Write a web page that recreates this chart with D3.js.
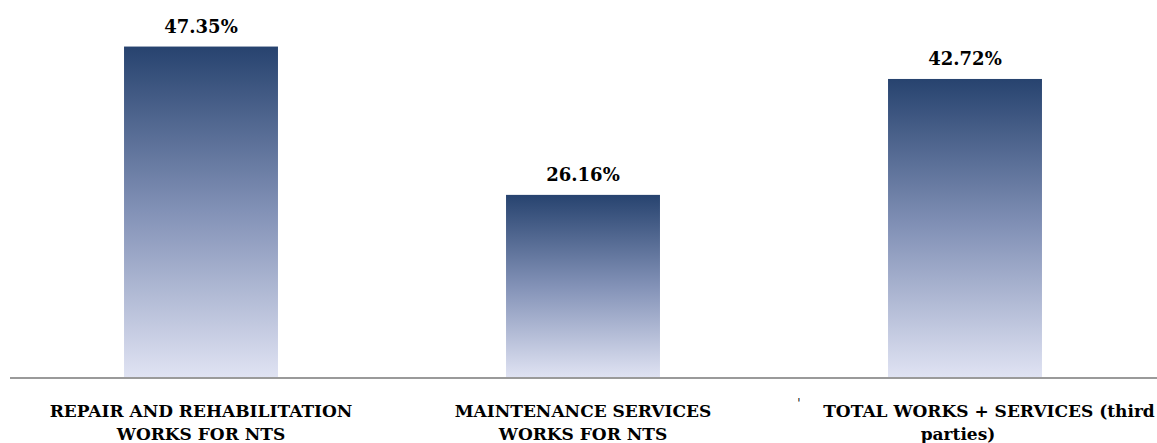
<!DOCTYPE html>
<html>
<head>
<meta charset="utf-8">
<script src="https://cdn.jsdelivr.net/npm/d3@7"></script>
<style>
  html, body { margin: 0; padding: 0; background: #fff; overflow: hidden; }
  svg { display: block; }
  text { font-family: "DejaVu Serif", "Liberation Serif", serif; font-weight: bold; fill: #000; }
</style>
</head>
<body>
<svg id="chart" width="1157" height="443"></svg>
<script>
// Category labels, split into their wrapped lines
const categories = [
  "REPAIR AND REHABILITATION WORKS FOR NTS",
  "MAINTENANCE SERVICES WORKS FOR NTS",
  "TOTAL WORKS + SERVICES (third parties)"
];
const categoryLines = [
  ["REPAIR AND REHABILITATION", "WORKS FOR NTS"],
  ["MAINTENANCE SERVICES", "WORKS FOR NTS"],
  ["TOTAL WORKS + SERVICES (third", "parties)"]
];
// Share of each category, in percent
const values = [47.35, 26.16, 42.72];
const valueLabels = ["47.35%", "26.16%", "42.72%"];

const width = 1157, height = 443;
const margin = { left: 10, right: 1, top: 28, baseline: 378 };

const svg = d3.select("#chart");

const x = d3.scaleBand()
  .domain(categories)
  .range([margin.left, width - margin.right])
  .paddingInner(0.597)
  .paddingOuter(0.2985);

const y = d3.scaleLinear()
  .domain([0, 50])
  .range([margin.baseline, margin.top]);

// Vertical fill: dark navy at the top fading to pale lavender at the base
const defs = svg.append("defs");
const grad = defs.append("linearGradient")
  .attr("id", "barFill")
  .attr("x1", 0).attr("y1", 0).attr("x2", 0).attr("y2", 1);
grad.append("stop").attr("offset", "0%").attr("stop-color", "#27436f");
grad.append("stop").attr("offset", "50%").attr("stop-color", "#8392b7");
grad.append("stop").attr("offset", "100%").attr("stop-color", "#e0e3f3");

const data = categories.map((c, i) => ({ c, v: values[i], label: valueLabels[i], lines: categoryLines[i] }));

svg.append("g")
  .selectAll("rect")
  .data(data)
  .join("rect")
  .attr("x", d => x(d.c))
  .attr("y", d => y(d.v))
  .attr("width", x.bandwidth())
  .attr("height", d => y(0) - y(d.v))
  .attr("fill", "url(#barFill)");

// Value labels above the bars
svg.append("g")
  .selectAll("text")
  .data(data)
  .join("text")
  .attr("x", d => x(d.c) + x.bandwidth() / 2)
  .attr("y", d => y(d.v) - 14)
  .attr("text-anchor", "middle")
  .style("font-size", "18px")
  .text(d => d.label);

// Category axis: baseline rule and wrapped labels
const axis = d3.axisBottom(x).tickSize(0).tickFormat("");
const axisG = svg.append("g")
  .attr("transform", `translate(0,${y(0)})`)
  .call(axis);
axisG.select(".domain")
  .attr("d", `M${margin.left},0H${width}`)
  .attr("stroke", "#9a9a9a")
  .attr("stroke-width", 2);

// The last label's first line is shifted right, the second line slightly left
const lineShift = [[0, 0], [0, 0], [24, -7]];

const labelG = svg.append("g");
data.forEach((d, i) => {
  d.lines.forEach((ln, j) => {
    labelG.append("text")
      .attr("x", x(d.c) + x.bandwidth() / 2 + lineShift[i][j])
      .attr("y", y(0) + 39 + j * 23)
      .attr("text-anchor", "middle")
      .style("font-size", "17px")
      .text(ln);
  });
});

// Small stray tick mark left of the last label
svg.append("text")
  .attr("x", x(categories[2]) - 89)
  .attr("y", y(0) + 30)
  .attr("text-anchor", "middle")
  .style("font-size", "12px")
  .style("font-weight", "normal")
  .text("'");
</script>
</body>
</html>
